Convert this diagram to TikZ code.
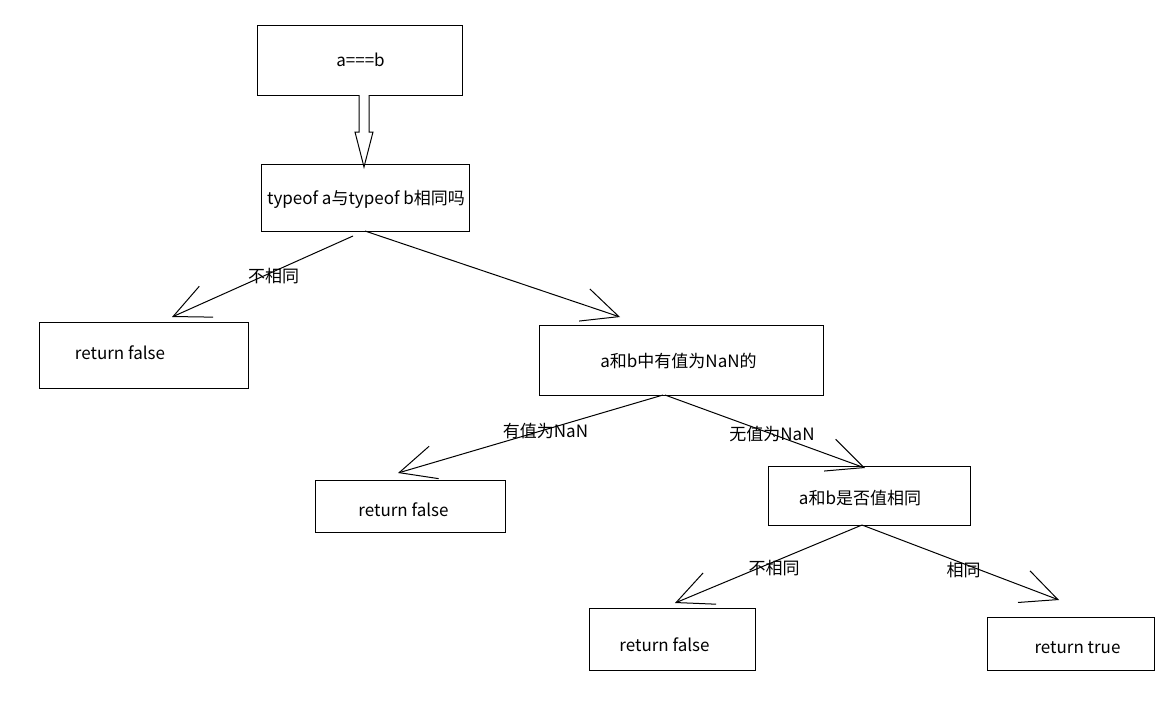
\documentclass[tikz,border=0pt]{standalone}
\usepackage{fontspec}
\setmainfont{Noto Sans CJK SC}
\usetikzlibrary{arrows.meta, positioning, calc}
\tikzset{
  box/.style   ={rectangle, draw=black, line width=1pt, inner sep=0pt, outer sep=0pt, fill=white},
  txt/.style   ={font=\fontsize{17}{20}\selectfont, inner sep=1pt, text=black},
  arrow/.style ={-{Straight Barb[angle=50:40pt]}, line width=1pt, black},
  hollow/.style={draw=black, line width=1pt, fill=white, line join=miter},
  lbl/.style   ={font=\fontsize{17}{20}\selectfont, inner sep=1pt, text=black}
}

\begin{document}
\begin{tikzpicture}[x=1pt, y=-1pt]
\useasboundingbox[fill=white] (0,0) rectangle (1165,704);
\node[box, minimum width=205pt, minimum height=70pt] (top) at (359.5,60) {};
\node[box, minimum width=208pt, minimum height=67pt, below=69pt of top, xshift=5.5pt] (typeq) {};
\node[box, minimum width=209pt, minimum height=66pt, below=91pt of typeq, xshift=-221.5pt] (ret1) {};
\node[box, minimum width=284pt, minimum height=70pt, below=94pt of typeq, xshift=316pt] (nan) {};
\node[box, minimum width=190pt, minimum height=52pt, below=85pt of nan, xshift=-271pt] (ret2) {};
\node[box, minimum width=202pt, minimum height=59pt, below=71pt of nan, xshift=188pt] (same) {};
\node[box, minimum width=166pt, minimum height=62pt, below=83pt of same, xshift=-197pt] (ret3) {};
\node[box, minimum width=167pt, minimum height=53pt, below=92pt of same, xshift=201.5pt] (rtrue) {};

\node[txt] (topt)   at ([xshift=1pt]top.center)                  {a===b};
\node[txt] (typeqt) at ([xshift=1pt, yshift=-1.5pt]typeq.center)  {typeof a与typeof b相同吗};
\node[txt] (ret1t)  at ([xshift=-23.5pt, yshift=2pt]ret1.center)  {return false};
\node[txt] (nant)   at ([xshift=-2.5pt, yshift=-1pt]nan.center)   {a和b中有值为NaN的};
\node[txt] (ret2t)  at ([xshift=-6.5pt, yshift=-4pt]ret2.center)  {return false};
\node[txt] (samet)  at ([xshift=-9pt, yshift=-2.5pt]same.center)  {a和b是否值相同};
\node[txt] (ret3t)  at ([xshift=-7.5pt, yshift=-6pt]ret3.center)  {return false};
\node[txt] (rtruet) at ([xshift=7pt, yshift=-4.5pt]rtrue.center)  {return true};

\draw[hollow] ($(top.south)+(-0.5,0)$) -- ++(0,37) -- ++(-4,0)
  -- ($(typeq.north)+(-1,3)$) -- ($(top.south)+(13.5,37)$) -- ++(-4,0)
  -- ($(top.south)+(9.5,0)$);

\draw[arrow] ([xshift=-12pt, yshift=-5pt]typeq.south) -- node[lbl, xshift=11pt]{不相同} ([xshift=28.5pt, yshift=5pt]ret1.north);
\draw[arrow] (typeq.south) -- ([xshift=-61pt, yshift=8pt]nan.north);
\draw[arrow] ([xshift=-18pt]nan.south) -- node[lbl, xshift=15pt, yshift=3pt]{有值为NaN} ([xshift=-12pt, yshift=7pt]ret2.north);
\draw[arrow] ([xshift=-16pt]nan.south) -- node[lbl, xshift=7pt, yshift=-3pt]{无值为NaN} ([xshift=-4pt, yshift=-2pt]same.north);
\draw[arrow] ([xshift=-7pt]same.south) -- node[lbl, xshift=5.5pt, yshift=-4pt]{不相同} ([xshift=3pt, yshift=5pt]ret3.north);
\draw[arrow] ([xshift=-7pt]same.south) -- node[lbl, xshift=3pt, yshift=-7.5pt]{相同} ([xshift=-11.5pt, yshift=17pt]rtrue.north);
\end{tikzpicture}
\end{document}
